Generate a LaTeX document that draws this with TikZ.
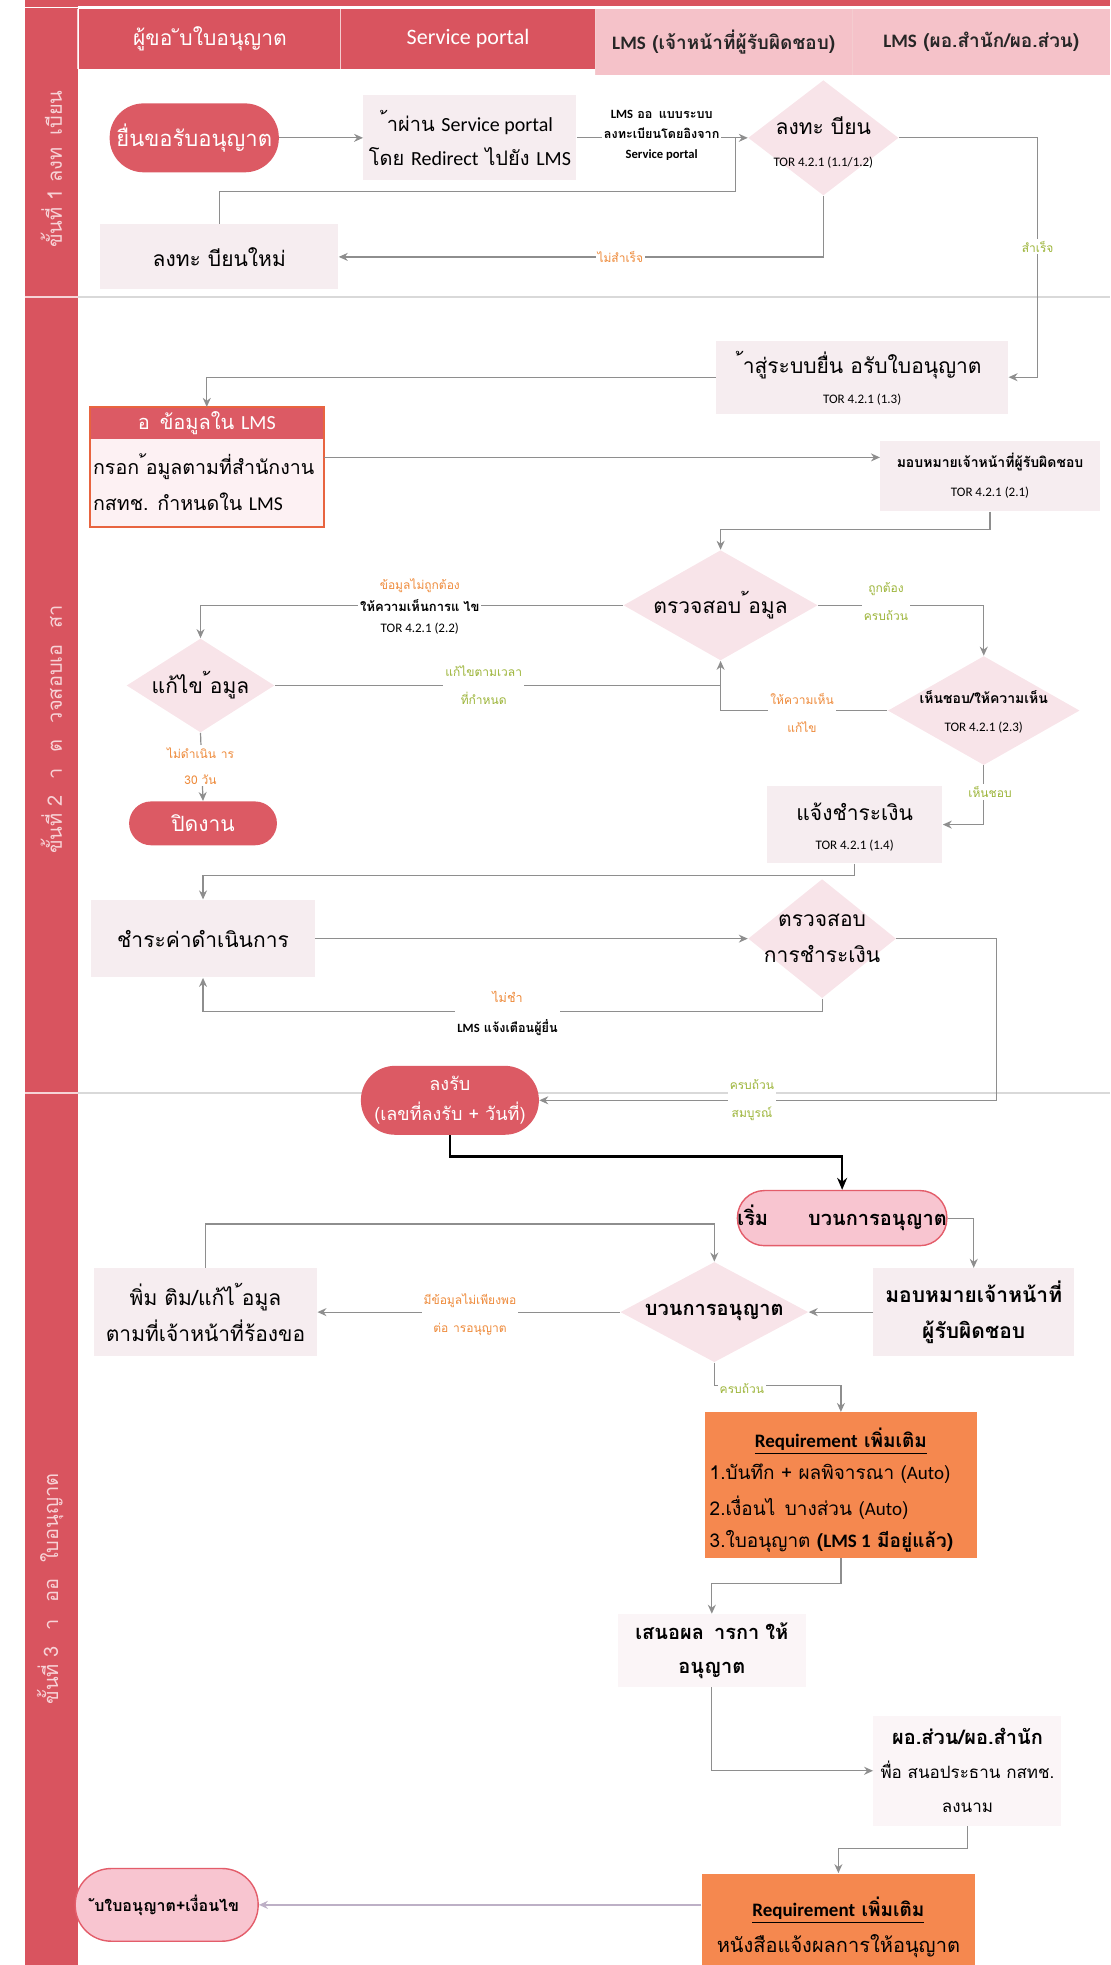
\documentclass[tikz,border=0pt]{standalone}
\usepackage{fontspec}
\setmainfont[Script=Thai]{Loma}
\newfontfamily\lat{Carlito}
\usetikzlibrary{shapes.geometric,arrows.meta,calc}
\definecolor{hdr}{HTML}{D9545F}
\definecolor{hdrl}{HTML}{F5C2C9}
\definecolor{band}{HTML}{D9545F}
\definecolor{bandtxt}{HTML}{F7D3D7}
\definecolor{boxf}{HTML}{F6EDF0}
\definecolor{diaf}{HTML}{F8E4E9}
\definecolor{pillred}{HTML}{DC5A64}
\definecolor{pinkf}{HTML}{F8C5D0}
\definecolor{pillbd}{HTML}{E35D6A}
\definecolor{orng}{HTML}{F5884F}
\definecolor{lineg}{HTML}{8E8E8E}
\definecolor{lbo}{HTML}{EE8A3A}
\definecolor{lbg}{HTML}{9DB53A}
\definecolor{formf}{HTML}{FDF1F3}
\definecolor{formbd}{HTML}{E8643F}
\definecolor{faint}{HTML}{FBF5F7}
\definecolor{lav}{HTML}{BDB0C6}
\def\U{0.6264pt}
\newcommand\fsz[2]{\fontsize{#1}{#2}\selectfont}
\tikzset{
 ln/.style={draw=lineg, line width=0.6pt},
 arr/.style={ln, -{Stealth[length=4.5pt,width=4pt]}},
 blk/.style={draw=black, line width=1.2pt, -{Stealth[length=6pt,width=5pt]}},
 bx/.style={rectangle, fill=boxf, inner sep=0pt, align=center, font=\fsz{10.5}{14}},
 dia/.style={diamond, fill=diaf, inner sep=0pt},
 tx/.style={inner sep=1pt, align=center},
 lo/.style={tx, text=lbo, font=\fsz{6}{9}, fill=white},
 lg/.style={tx, text=lbg, font=\fsz{6}{9}, fill=white},
 tor/.style={font=\lat\fsz{6.5}{8}, inner sep=0pt},
 hcell/.style={inner sep=0pt, minimum height=48*\U},
}
\begin{document}
\begin{tikzpicture}[x=\U,y=-\U]
\useasboundingbox (0,0) rectangle (886,1568);
% band and header
\fill[band] (20,0) rectangle (62,1568);
\fill[hdr] (20,0) rectangle (886,5);
\draw[white, line width=0.6pt] (20,6) -- (886,6);
\node[hcell, fill=hdr, minimum width=209*\U, text=white, font=\fsz{10.5}{14}] (h1) at (167.5,31) {ผู้ขอ ับใบอนุญาต};
\node[hcell, fill=hdr, minimum width=203*\U, text=white, font=\lat\fsz{11}{14}] (h2) at (373.5,31) {Service portal};
\node[hcell, fill=hdrl, minimum width=205*\U, minimum height=53*\U, text=black!85, font=\bfseries\fsz{9.5}{13}] (h3) at (577.5,33.5) {{\lat LMS} (เจ้าหน้าที่ผู้รับผิดชอบ)};
\node[hcell, fill=hdrl, minimum width=206*\U, minimum height=53*\U, text=black!85, font=\bfseries\fsz{9.5}{13}] (h4) at (783,33.5) {{\lat LMS} (ผอ.สำนัก/ผอ.ส่วน)};
\draw[white!70!hdr, line width=0.6pt] (272,7) -- (272,55) (475,7) -- (475,60) (680,7) -- (680,60) (62,7) -- (62,55);
% row separators
\draw[black!15, line width=0.8pt] (62,237) -- (886,237) (62,872) -- (886,872);
\draw[white!75!band, line width=0.8pt] (20,237) -- (62,237) (20,872) -- (62,872);
\node[rotate=90, text=bandtxt, font=\fsz{10}{13}] (t1) at (41,135) {ขั้นที่ 1 ลงท\hspace{0.6em}เบียน};
\node[rotate=90, text=bandtxt, font=\fsz{10}{13}] (t2) at (41,582) {ขั้นที่ 2\hspace{0.8em}า\hspace{0.8em}ต\hspace{0.8em}วจสอบเอ\hspace{0.8em}สา};
\node[rotate=90, text=bandtxt, font=\fsz{10}{13}] (t3) at (40,1268) {ขั้นที่ 3\hspace{0.8em}า\hspace{0.8em}ออ\hspace{0.8em}ใบอนุญาต};

% ---------- row 1 nodes
\node[fill=pillred, rounded corners=17pt, minimum width=135*\U, minimum height=55*\U, inner sep=0pt, text=white, font=\fsz{11}{14}] (s1) at (155,110) {ยื่นขอรับอนุญาต};
\node[bx, minimum width=170*\U, minimum height=68*\U, font=\fsz{10}{17}] (portal) at (375,110) {้าผ่าน {\lat Service portal}\\โดย {\lat Redirect} ไปยัง {\lat LMS}};
\node[dia, minimum width=120*\U, minimum height=92*\U] (d1) at (657,110) {};
\node[font=\fsz{10.5}{14}] (d1t) at (657,100) {ลงทะ บียน};
\node[tor] (d1r) at (657,130) {TOR 4.2.1 (1.1/1.2)};
\node[bx, minimum width=190*\U, minimum height=52*\U] (rereg) at (175,205) {ลงทะ บียนใหม่};
\coordinate (j1) at (587,110);
\coordinate (j2) at (587,153);
\coordinate (c1) at (828,301);

% ---------- row 2 nodes
\node[bx, minimum width=233*\U, minimum height=58*\U] (b2) at (688,301) {};
\node[font=\fsz{10.5}{14}] (b2t) at (688,291) {้าสู่ระบบยื่น อรับใบอนุญาต};
\node[tor] (b2r) at (688,319) {TOR 4.2.1 (1.3)};
\node[fill=pillred, minimum width=186*\U, minimum height=25*\U, inner sep=0pt, text=white, font=\fsz{10}{13}] (formh) at (165,337.5) {อ\hspace{0.5em}ข้อมูลใน {\lat LMS}};
\node[fill=formf, minimum width=186*\U, minimum height=70*\U, inner sep=0pt] (formb) at (165,385) {};
\draw[formbd, line width=0.9pt] (formh.north west) rectangle (formb.south east);
\node[anchor=west, align=left, inner sep=0pt, font=\fsz{9.8}{18}] (formt) at (74,385) {กรอก ้อมูลตามที่สำนักงาน\\กสทช. กำหนดใน {\lat LMS}};
\coordinate (j3) at (400,365);
\node[bx, minimum width=175*\U, minimum height=56*\U] (assign) at (790,380) {};
\node[font=\bfseries\fsz{7}{10}] (assignt) at (790,369) {มอบหมายเจ้าหน้าที่ผู้รับผิดชอบ};
\node[tor] (assignr) at (790,393) {TOR 4.2.1 (2.1)};
\node[dia, minimum width=155*\U, minimum height=88*\U] (d2) at (575,483) {};
\node[font=\fsz{10.5}{14}] (d2t) at (575,483) {ตรวจสอบ ้อมูล};
\node[dia, minimum width=118*\U, minimum height=75*\U] (d3) at (160,547) {};
\node[font=\fsz{10.5}{14}] (d3t) at (160,547) {แก้ไข ้อมูล};
\node[dia, minimum width=153*\U, minimum height=87*\U] (d4) at (785,567) {};
\node[font=\bfseries\fsz{7}{10}] (d4t) at (785,556) {เห็นชอบ/ให้ความเห็น};
\node[tor] (d4r) at (785,581) {TOR 4.2.1 (2.3)};
\node[fill=pillred, rounded corners=11pt, minimum width=118*\U, minimum height=35*\U, inner sep=0pt, text=white, font=\fsz{10.5}{14}] (close) at (162,657) {ปิดงาน};
\node[bx, minimum width=140*\U, minimum height=62*\U] (notice) at (682,658) {};
\node[font=\fsz{10.5}{14}] (noticet) at (682,648) {แจ้งชำระเงิน};
\node[tor] (noticer) at (682,675) {TOR 4.2.1 (1.4)};
\node[bx, minimum width=178*\U, minimum height=62*\U] (pay) at (162,749) {ชำระค่าดำเนินการ};
\node[dia, minimum width=118*\U, minimum height=95*\U] (d5) at (656,749) {};
\node[align=center, font=\fsz{10.5}{18}] (d5t) at (656,749) {ตรวจสอบ\\การชำระเงิน};
\coordinate (c5) at (795,878);
\node[fill=pillred, rounded corners=17pt, minimum width=142*\U, minimum height=55*\U, inner sep=0pt, text=white, align=center, font=\fsz{9}{15}] (reg) at (359,878) {ลงรับ\\(เลขที่ลงรับ + วันที่)};

% ---------- row 3 nodes
\node[fill=pinkf, draw=pillbd, line width=0.7pt, rounded corners=13.5pt, minimum width=162*\U, minimum height=44*\U, inner sep=0pt, font=\bfseries\fsz{10}{14}] (start3) at (672,972) {เริ่ม\hspace{2em}บวนการอนุญาต};
\node[bx, minimum width=160*\U, minimum height=70*\U, font=\bfseries\fsz{10.5}{18}] (assign2) at (777,1047) {มอบหมายเจ้าหน้าที่\\ผู้รับผิดชอบ};
\node[dia, minimum width=150*\U, minimum height=80*\U] (d6) at (570,1047) {};
\node[font=\bfseries\fsz{10}{14}] (d6t) at (570,1047) {บวนการอนุญาต};
\node[bx, minimum width=178*\U, minimum height=70*\U, font=\fsz{10.5}{18}] (more) at (164,1047) {พิ่ม ติม/แก้ไ ้อมูล\\ตามที่เจ้าหน้าที่ร้องขอ};
\node[fill=orng, minimum width=217*\U, minimum height=116*\U, inner sep=0pt] (req1) at (671,1185) {};
\node[font=\bfseries\fsz{9.5}{12}] (req1h) at (671,1150) {\underline{{\lat Requirement} เพิ่มเติม}};
\node[anchor=west, inner sep=0pt, font=\fsz{9.5}{13}] (req1a) at (566,1176) {1.บันทึก + ผลพิจารณา ({\lat Auto})};
\node[anchor=west, inner sep=0pt, font=\fsz{9.5}{13}] (req1b) at (566,1203) {2.เงื่อนไ\hspace{0.5em}บางส่วน ({\lat Auto})};
\node[anchor=west, inner sep=0pt, font=\fsz{9.5}{13}] (req1c) at (566,1230) {3.ใบอนุญาต \textbf{({\lat LMS 1} มีอยู่แล้ว)}};
\node[fill=faint, minimum width=150*\U, minimum height=58*\U, inner sep=0pt, align=center, font=\bfseries\fsz{10}{17}] (prop) at (568,1317) {เสนอผล\hspace{0.5em}ารกา\hspace{0.3em}ให้\\อนุญาต};
\node[fill=faint, minimum width=150*\U, minimum height=88*\U, inner sep=0pt, align=center, font=\fsz{8.5}{17}] (dir) at (772,1413) {\textbf{\fsz{10}{17}ผอ.ส่วน/ผอ.สำนัก}\\พื่อ สนอประธาน กสทช.\\ลงนาม};
\node[fill=orng, minimum width=218*\U, minimum height=80*\U, inner sep=0pt] (req2) at (669,1535) {};
\node[font=\bfseries\fsz{9.5}{12}] (req2h) at (669,1524) {\underline{{\lat Requirement} เพิ่มเติม}};
\node[font=\fsz{10}{13}] (req2t) at (669,1553) {หนังสือแจ้งผลการให้อนุญาต};
\node[fill=pinkf, draw=pillbd, line width=0.7pt, rounded corners=18pt, minimum width=146*\U, minimum height=58*\U, inner sep=0pt, font=\bfseries\fsz{8}{14}] (final) at (133,1520) {ับใบอนุญาต+เงื่อนไข};

% ---------- connectors
\draw[arr] (s1.east) -- (portal.west);
\draw[arr] (portal.east) -- (d1.west);
\draw[ln] (rereg.north) |- (j2) -- (j1);
\draw[arr] (d1.south) |- (rereg.east);
\draw[arr] (d1.east) -| (c1) -- (b2.east);
\draw[arr] (b2.west) -| (formh.north);
\draw[arr] (formb.east |- j3) -- (assign.west |- j3);
\draw[arr] (assign.south) -- ++(0,14) -| (d2.north);
\draw[arr] (d2.west) -| (d3.north);
\draw[arr] (d2.east) -| (d4.north);
\draw[arr] (d3.east) -| (d2.south);
\draw[ln] (d4.west) -| (d3.east -| d2.south);
\draw[arr] (d3.south) -- (close.north);
\draw[arr] (d4.south) |- (notice.east);
\draw[arr] (notice.south) -- ++(0,9) -| (pay.north);
\draw[arr] (pay.east) -- (d5.west);
\draw[arr] (d5.south) -- ++(0,10) -| (pay.south);
\draw[arr] (d5.east) -| (c5) -- (reg.east);
\draw[blk] (reg.south) -- ++(0,17) -| (start3.north);
\draw[arr] (start3.east) -| (assign2.north);
\draw[arr] (assign2.west) -- (d6.east);
\draw[arr] (d6.west) -- (more.east);
\draw[arr] (more.north) -- ++(0,-35) -| (d6.north);
\draw[arr] (d6.south) -- ++(0,18) -| (req1.north);
\draw[arr] (req1.south) -- ++(0,20) -| (prop.north);
\draw[arr] (prop.south) |- (dir.west);
\draw[arr] (dir.south) -- ++(0,18) -| (req2.north);
\draw[ln, draw=lav, line width=0.9pt, -{Stealth[length=4.5pt,width=4pt]}] (req2.west |- final.east) -- (final.east);

% ---------- labels
\node[tx, fill=white, font=\bfseries\fsz{6.3}{10}] (l1) at (528,108) {{\lat LMS} ออ\hspace{0.5em}แบบระบบ\\ลงทะเบียนโดยอิงจาก\\{\lat Service portal}};
\node[lo] (l2) at (495,205) {ไม่สำเร็จ};
\node[lg] (l3) at (828,197) {สำเร็จ};
\node[tx, text=lbo, font=\fsz{6}{9}] (l4a) at (335,467) {ข้อมูลไม่ถูกต้อง};
\node[tx, fill=white, font=\bfseries\fsz{6.5}{9}] (l4b) at (335,483) {ให้ความเห็นการแ\hspace{0.3em}ไข};
\node[tor] (l4c) at (335,502) {TOR 4.2.1 (2.2)};
\node[lg, font=\fsz{6}{14}] (l5) at (707,480) {ถูกต้อง\\ครบถ้วน};
\node[lg, font=\fsz{6}{14}] (l6) at (386,547) {แก้ไขตามเวลา\\ที่กำหนด};
\node[lo, font=\fsz{6}{14}] (l7) at (640,569) {ให้ความเห็น\\แก้ไข};
\node[lo, font=\fsz{6}{13}] (l8) at (160,611) {ไม่ดำเนิน\hspace{0.4em}าร\\30 วัน};
\node[lg] (l9) at (790,632) {เห็นชอบ};
\node[tx, fill=white, font=\fsz{6.3}{15}] (l10) at (405,809) {\textcolor{lbo}{ไม่ชำ}\\\textbf{{\lat LMS} แจ้งเตือนผู้ยื่น}};
\node[lg, font=\fsz{6}{14}] (l11) at (600,878) {ครบถ้วน\\สมบูรณ์};
\node[lo, font=\fsz{6}{14}] (l12) at (375,1049) {มีข้อมูลไม่เพียงพอ\\ต่อ\hspace{0.4em}ารอนุญาต};
\node[lg] (l13) at (592,1108) {ครบถ้วน};
\end{tikzpicture}
\end{document}
